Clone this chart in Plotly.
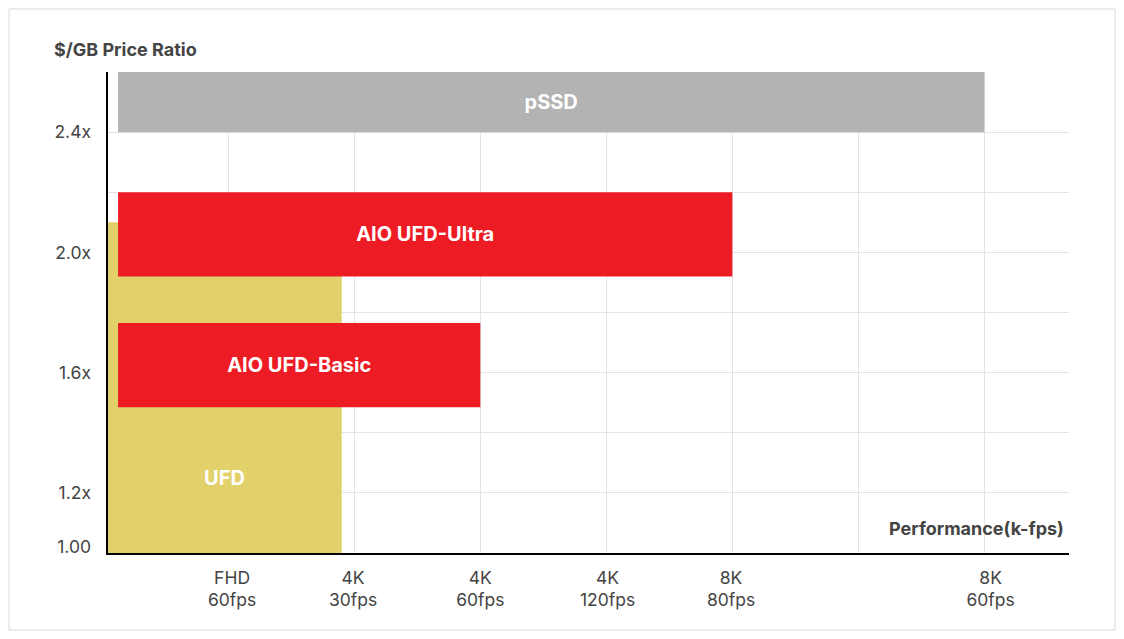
import plotly.graph_objs as go

# bar data (x in "performance" units: 1 = FHD 60fps ... 7 = 8K 60fps)
products = ['UFD', 'AIO UFD-Basic', 'AIO UFD-Ultra', 'pSSD']
perf_start = [0.045, 0.125, 0.125, 0.125]
perf_end = [1.9, 3.0, 5.0, 7.0]
price_low = [1.0, 1.485, 1.92, 2.4]
price_high = [2.1, 1.765, 2.2, 2.6]
bar_colors = ['#E2D06A', '#ED1C24', '#ED1C24', '#B3B3B3']

# axis labels
x_grid = [1, 2, 3, 4, 5, 6, 7]
x_label_pos = [1.03, 1.99, 3.0, 4.01, 4.99, 7.05]
x_labels = ['FHD<br>60fps', '4K<br>30fps', '4K<br>60fps', '4K<br>120fps', '8K<br>80fps', '8K<br>60fps']
y_label_pos = [1.02, 1.2, 1.6, 2.0, 2.4]
y_labels = ['1.00', '1.2x', '1.6x', '2.0x', '2.4x']

x_range = [0.0452, 7.672]
y_range = [1.0, 2.6]

font = 'Inter, Roboto, sans-serif'
grey_txt = '#444444'
tick_size = 17.5

fig = go.Figure()

for i, name in enumerate(products):
    show_text = name != 'UFD'
    fig.add_trace(go.Bar(
        orientation='h',
        y=[(price_low[i] + price_high[i]) / 2],
        x=[perf_end[i] - perf_start[i]],
        base=[perf_start[i]],
        width=[price_high[i] - price_low[i]],
        marker=dict(color=bar_colors[i], line=dict(width=0)),
        text=[name] if show_text else None,
        textposition='inside' if show_text else 'none',
        insidetextanchor='middle',
        textangle=0,
        textfont=dict(family=font, size=20, color='white', weight='bold'),
        name=name, showlegend=False, hoverinfo='skip'
    ))

# UFD label sits low in its bar
fig.add_annotation(
    x=(perf_start[0] + perf_end[0]) / 2, y=1.25, xref='x', yref='y',
    text='<b>UFD</b>', showarrow=False,
    font=dict(family=font, size=20, color='white')
)

# invisible trace so the label axes get drawn
fig.add_trace(go.Scatter(x=[x_range[0]], y=[y_range[0]], xaxis='x2', yaxis='y2',
                         mode='markers', marker=dict(opacity=0), showlegend=False, hoverinfo='skip'))

# page has an 8px body margin on every side, so the figure is 16px smaller than the window
fig.update_layout(
    width=1108, height=623,
    barmode='overlay',
    margin=dict(l=100, r=47, t=64, b=78),
    paper_bgcolor='white',
    plot_bgcolor='white',
    font=dict(family=font, size=16, color=grey_txt),
    xaxis=dict(range=x_range, tickvals=x_grid, showticklabels=False, showgrid=True,
               gridcolor='#E3E3E3', gridwidth=1, zeroline=False, showline=True,
               linecolor='black', linewidth=1.5, ticks='', layer='below traces'),
    yaxis=dict(range=y_range, tick0=1.0, dtick=0.2, showticklabels=False, showgrid=True,
               gridcolor='#E3E3E3', gridwidth=1, zeroline=False, showline=True,
               linecolor='black', linewidth=1.5, ticks=''),
    xaxis2=dict(range=x_range, overlaying='x', anchor='y', side='bottom', tickvals=x_label_pos,
                ticktext=x_labels, showgrid=False, zeroline=False, showline=False, ticks='',
                ticklabelstandoff=12, tickfont=dict(family=font, size=tick_size, color=grey_txt)),
    yaxis2=dict(range=y_range, overlaying='y', anchor='x', side='left', tickvals=y_label_pos,
                ticktext=y_labels, showgrid=False, zeroline=False, showline=False, ticks='',
                ticklabelstandoff=16, tickfont=dict(family=font, size=tick_size, color=grey_txt)),
    annotations=list(fig.layout.annotations) + [
        dict(text='<b>$/GB Price Ratio</b>', xref='paper', yref='paper', x=-0.0583, y=1.0478,
             xanchor='left', yanchor='middle', showarrow=False,
             font=dict(family=font, size=18, color=grey_txt)),
        dict(text='<b>Performance(k-fps)</b>', xref='paper', yref='paper', x=0.9969, y=0.0499,
             xanchor='right', yanchor='middle', showarrow=False,
             font=dict(family=font, size=18, color=grey_txt)),
    ],
    shapes=[dict(type='rect', xref='paper', yref='paper', x0=-0.1030, x1=1.0479, y0=-0.1601, y1=1.1310,
                 line=dict(color='#D9D9D9', width=1), layer='below')]
)

fig.write_html("out.html")
